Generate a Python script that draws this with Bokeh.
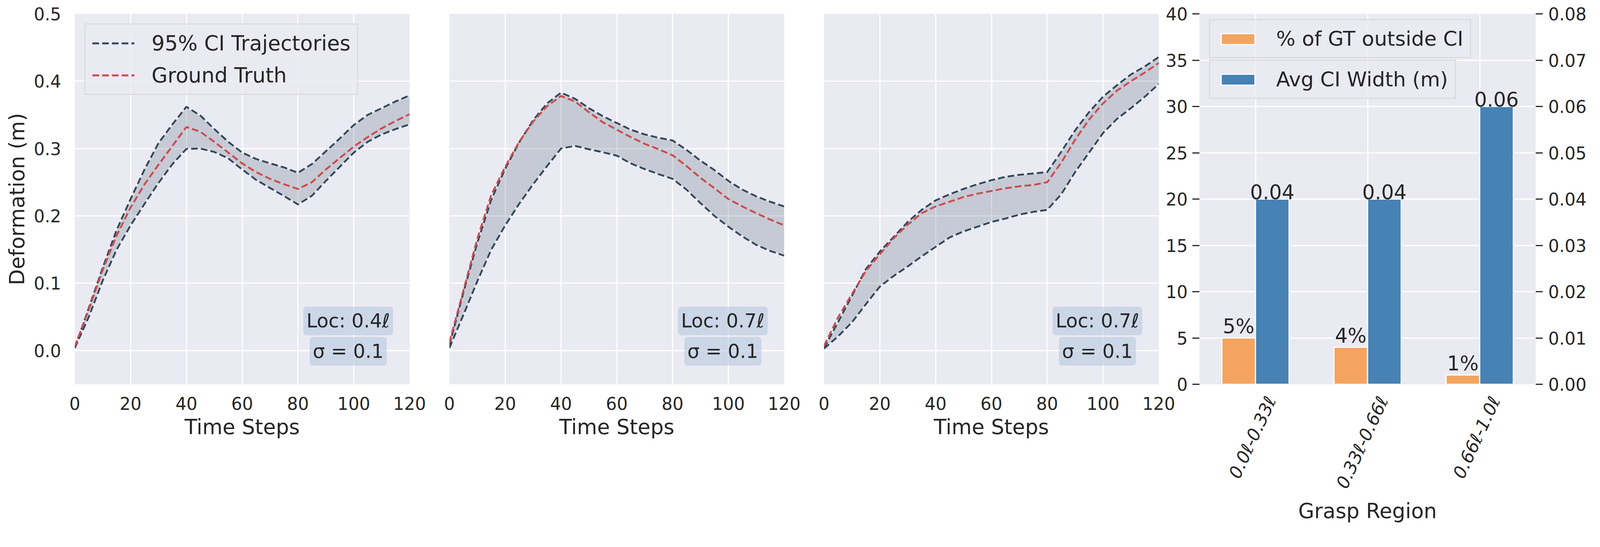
import math
from bokeh.plotting import figure
from bokeh.models import (Range1d, LinearAxis, FixedTicker, PrintfTickFormatter,
                          Legend, LegendItem, Label, ColumnDataSource)
from bokeh.layouts import row
from bokeh.transform import dodge
from bokeh.core.properties import value
from bokeh.embed import file_html
from bokeh.resources import INLINE

# ---------------- data ----------------
time_steps = [0, 5, 10, 15, 20, 25, 30, 35, 40, 45, 50, 55, 60, 65, 70, 75, 80, 85, 90, 95, 100, 105, 110, 115, 120]

p1_upper = [0.004, 0.063, 0.123, 0.179, 0.225, 0.269, 0.308, 0.336, 0.362, 0.349, 0.329, 0.310, 0.294, 0.2845, 0.278, 0.272, 0.264, 0.277, 0.296, 0.315, 0.335, 0.350, 0.360, 0.370, 0.379]
p1_truth = [0.006, 0.061, 0.120, 0.171, 0.2125, 0.247, 0.276, 0.304, 0.332, 0.325, 0.310, 0.294, 0.278, 0.265, 0.255, 0.247, 0.240, 0.250, 0.269, 0.286, 0.303, 0.317, 0.330, 0.341, 0.351]
p1_lower = [0.004, 0.050, 0.104, 0.150, 0.186, 0.218, 0.249, 0.277, 0.2995, 0.300, 0.295, 0.2855, 0.269, 0.2535, 0.2415, 0.2295, 0.217, 0.230, 0.252, 0.273, 0.294, 0.310, 0.321, 0.329, 0.336]

p2_upper = [0.008, 0.086, 0.160, 0.224, 0.270, 0.309, 0.342, 0.367, 0.383, 0.374, 0.360, 0.348, 0.338, 0.328, 0.321, 0.316, 0.312, 0.298, 0.282, 0.268, 0.252, 0.239, 0.229, 0.221, 0.214]
p2_truth = [0.012, 0.089, 0.166, 0.231, 0.273, 0.310, 0.340, 0.363, 0.378, 0.370, 0.354, 0.339, 0.328, 0.317, 0.307, 0.299, 0.290, 0.274, 0.2565, 0.241, 0.225, 0.214, 0.204, 0.1945, 0.186]
p2_lower = [0.004, 0.053, 0.103, 0.150, 0.186, 0.218, 0.247, 0.274, 0.300, 0.304, 0.299, 0.2945, 0.2895, 0.278, 0.2695, 0.262, 0.255, 0.239, 0.219, 0.200, 0.184, 0.1695, 0.157, 0.148, 0.141]

p3_upper = [0.004, 0.042, 0.081, 0.121, 0.147, 0.169, 0.191, 0.209, 0.223, 0.232, 0.240, 0.247, 0.253, 0.258, 0.261, 0.263, 0.265, 0.295, 0.327, 0.354, 0.377, 0.394, 0.410, 0.422, 0.436]
p3_truth = [0.007, 0.049, 0.084, 0.118, 0.143, 0.167, 0.187, 0.204, 0.214, 0.221, 0.228, 0.233, 0.237, 0.241, 0.244, 0.246, 0.250, 0.279, 0.313, 0.343, 0.367, 0.386, 0.400, 0.413, 0.427]
p3_lower = [0.003, 0.021, 0.042, 0.069, 0.095, 0.111, 0.125, 0.140, 0.154, 0.168, 0.177, 0.184, 0.191, 0.196, 0.202, 0.206, 0.209, 0.232, 0.265, 0.294, 0.323, 0.344, 0.360, 0.377, 0.396]

loc_labels = ["Loc: 0.4\u2113", "Loc: 0.7\u2113", "Loc: 0.7\u2113"]
sigma_label = "\u03c3 = 0.1"

x_ticks = [0, 20, 40, 60, 80, 100, 120]
y_ticks = [0.0, 0.1, 0.2, 0.3, 0.4, 0.5]

regions = ["0.0\u2113-0.33\u2113", "0.33\u2113-0.66\u2113", "0.66\u2113-1.0\u2113"]
pct_outside = [5, 4, 1]
avg_ci_width = [0.04, 0.04, 0.06]
pct_ticks = [0, 5, 10, 15, 20, 25, 30, 35, 40]
width_ticks = [0.0, 0.01, 0.02, 0.03, 0.04, 0.05, 0.06, 0.07, 0.08]

# ---------------- style ----------------
FONT = "DejaVu Sans"
TXT = "#262626"
BG = "#eaeaf2"
DARK = "#34495e"
RED = "#cd4b4f"
ORANGE = "#f4a460"
BLUE = "#4682b4"
H = 1352
TOP = 35
FRAME_H = 948
BOTTOM = H - TOP - FRAME_H
FW = 857          # line-panel frame width
TICK_FS = "44px"
LABEL_FS = "53px"
ROT_LABEL_SHIFT = 0.14   # rotated category labels centred like matplotlib's


def base_fig(width, left, right, x_range, y_range):
    p = figure(width=width, height=H, x_range=x_range, y_range=y_range, title=None,
               output_backend="svg", toolbar_location=None,
               min_border_left=left, min_border_right=right,
               min_border_top=TOP, min_border_bottom=BOTTOM)
    p.background_fill_color = BG
    p.border_fill_color = None
    p.outline_line_color = None
    p.grid.grid_line_color = "white"
    p.grid.grid_line_width = 3
    return p


def style_axis(ax, standoff, tick_out=0):
    ax.axis_line_color = None
    ax.minor_tick_line_color = None
    ax.major_tick_in = 0
    ax.major_tick_out = tick_out
    ax.major_tick_line_color = TXT if tick_out else None
    ax.major_tick_line_width = 3
    ax.major_label_text_font = FONT
    ax.major_label_text_font_size = TICK_FS
    ax.major_label_text_color = TXT
    ax.major_label_standoff = standoff
    ax.axis_label_text_font = FONT
    ax.axis_label_text_font_size = LABEL_FS
    ax.axis_label_text_font_style = "normal"
    ax.axis_label_text_color = TXT
    ax.axis_label_standoff = 10


def line_panel(upper, truth, lower, loc_text, left, right, show_y):
    p = base_fig(left + FW + right, left, right, Range1d(0, 120), Range1d(-0.05, 0.5))
    p.xaxis.ticker = FixedTicker(ticks=x_ticks)
    p.xaxis.axis_label = "Time Steps"
    style_axis(p.xaxis[0], 32)
    p.xgrid.ticker = FixedTicker(ticks=x_ticks)
    p.ygrid.ticker = FixedTicker(ticks=y_ticks)
    if show_y:
        p.yaxis.ticker = FixedTicker(ticks=y_ticks)
        p.yaxis.formatter = PrintfTickFormatter(format="%.1f")
        p.yaxis.axis_label = "Deformation (m)"
        style_axis(p.yaxis[0], 35)
    else:
        p.yaxis.visible = False

    src = ColumnDataSource(dict(t=time_steps, up=upper, gt=truth, lo=lower))
    p.varea(x="t", y1="lo", y2="up", source=src, fill_color=DARK, fill_alpha=0.2)
    p.line("t", "up", source=src, line_color="white", line_alpha=0.25, line_width=7)
    p.line("t", "lo", source=src, line_color="white", line_alpha=0.25, line_width=7)
    r_up = p.line("t", "up", source=src, line_color=DARK, line_width=4.8, line_dash="17 8")
    p.line("t", "lo", source=src, line_color=DARK, line_width=4.8, line_dash="17 8")
    r_gt = p.line("t", "gt", source=src, line_color=RED, line_width=4.8, line_dash="17 8")

    for txt, yy in ((loc_text, 0.044), (sigma_label, -0.001)):
        p.add_layout(Label(x=98, y=yy, text=txt, text_align="center", text_baseline="middle",
                           text_font=FONT, text_font_size="49px", text_color=TXT,
                           background_fill_color="#b0c4de", background_fill_alpha=0.55,
                           padding=8, border_radius=8))
    return p, r_up, r_gt


p1, r_up, r_gt = line_panel(p1_upper, p1_truth, p1_lower, loc_labels[0], 191, 50, True)
legend = Legend(items=[LegendItem(label=value("95% CI Trajectories"), renderers=[r_up]),
                       LegendItem(label=value("Ground Truth"), renderers=[r_gt])],
                location="top_left", margin=25)
legend.label_text_font = FONT
legend.label_text_font_size = "53px"
legend.label_text_color = TXT
legend.glyph_width = 108
legend.glyph_height = 59
legend.label_height = 59
legend.label_standoff = 44
legend.spacing = 21
legend.padding = 17
legend.border_line_color = "#cccccc"
legend.border_line_width = 3
legend.background_fill_color = BG
legend.background_fill_alpha = 0.8
p1.add_layout(legend)

p2, _, _ = line_panel(p2_upper, p2_truth, p2_lower, loc_labels[1], 52, 50, False)
p3, _, _ = line_panel(p3_upper, p3_truth, p3_lower, loc_labels[2], 52, 50, False)

# ---------------- bar panel ----------------
region_idx = list(range(len(regions)))
label_ticks = [i + ROT_LABEL_SHIFT for i in region_idx]

p4 = base_fig(96 + 861 + 140, 96, 140, Range1d(-0.5, len(regions) - 0.5), Range1d(0, 40))
p4.margin = (0, 0, 0, -42)
p4.extra_y_ranges = {"width": Range1d(0, 0.08)}
p4.yaxis.ticker = FixedTicker(ticks=pct_ticks)
style_axis(p4.yaxis[0], 12, tick_out=18)
right_ax = LinearAxis(y_range_name="width", ticker=FixedTicker(ticks=width_ticks),
                      formatter=PrintfTickFormatter(format="%.2f"))
style_axis(right_ax, 14, tick_out=18)
p4.add_layout(right_ax, "right")
p4.xaxis.axis_label = "Grasp Region"
style_axis(p4.xaxis[0], 34)
p4.xaxis.axis_label_standoff = 4
p4.xaxis.ticker = FixedTicker(ticks=label_ticks)
p4.xaxis.major_label_overrides = dict(zip(label_ticks, regions))
p4.xaxis.major_label_orientation = math.radians(65)
p4.xaxis.major_label_text_font_style = "italic"
p4.xaxis.major_label_text_font_size = "45px"
p4.xgrid.ticker = FixedTicker(ticks=region_idx)
p4.ygrid.ticker = FixedTicker(ticks=pct_ticks)

bsrc = ColumnDataSource(dict(idx=region_idx, pct=pct_outside, wid=avg_ci_width,
                             pct_lbl=[f"{v:.0f}%" for v in pct_outside],
                             wid_lbl=[f"{v:.2f}" for v in avg_ci_width]))
r_or = p4.vbar(x=dodge("idx", -0.15), top="pct", width=0.3, source=bsrc,
               fill_color=ORANGE, line_color="white", line_width=3)
r_bl = p4.vbar(x=dodge("idx", 0.15), top="wid", width=0.3, source=bsrc,
               y_range_name="width", fill_color=BLUE, line_color="white", line_width=3)
p4.text(x=dodge("idx", -0.15), y="pct", text="pct_lbl", source=bsrc,
        text_font=value(FONT), text_font_size=value("51px"), text_color=TXT,
        text_align="center", text_baseline="bottom")
p4.text(x=dodge("idx", 0.15), y="wid", text="wid_lbl", source=bsrc,
        y_range_name="width", text_font=value(FONT), text_font_size=value("51px"), text_color=TXT,
        text_align="center", text_baseline="bottom")


def bar_legend(label, rend, loc):
    lg = Legend(items=[LegendItem(label=value(label), renderers=[rend])], location=loc)
    lg.label_text_font = FONT
    lg.label_text_font_size = "52px"
    lg.label_text_color = TXT
    lg.glyph_width = 108
    lg.glyph_height = 35
    lg.label_height = 59
    lg.label_standoff = 44
    lg.padding = 17
    lg.border_line_color = "#cccccc"
    lg.border_line_width = 3
    lg.background_fill_color = BG
    lg.background_fill_alpha = 0.8
    return lg


p4.add_layout(bar_legend("% of GT outside CI", r_or, (25, FRAME_H - 114)))
p4.add_layout(bar_legend("Avg CI Width (m)", r_bl, (25, FRAME_H - 218)))

layout = row(p1, p2, p3, p4)
open("out.html", "w").write(file_html(layout, INLINE))
